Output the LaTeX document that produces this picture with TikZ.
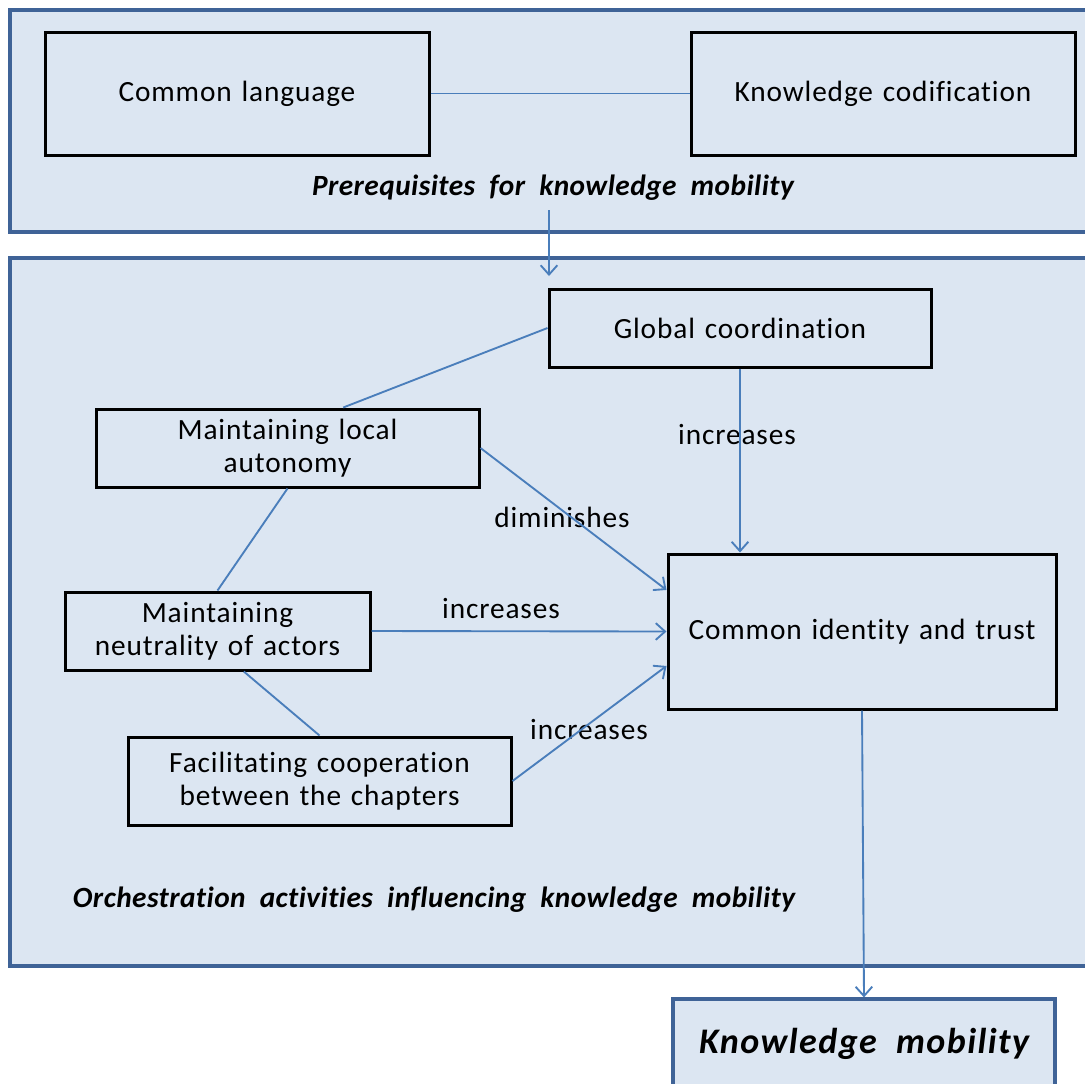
\documentclass[tikz,border=0pt]{standalone}
\usepackage{fontspec}
\setmainfont{Carlito}[Ligatures=NoCommon]
\newfontfamily\boxfont{Carlito}[LetterSpace=3,WordSpace=1.3,Ligatures=NoCommon]
\newfontfamily\titlefont{Carlito}[LetterSpace=1.5,WordSpace=2,Ligatures=NoCommon]
\newfontfamily\goalfont{Carlito}[LetterSpace=4,WordSpace=2,Ligatures=NoCommon]
\usetikzlibrary{arrows.meta}
\definecolor{panelfill}{HTML}{DCE6F2}
\definecolor{paneldraw}{HTML}{3F6397}
\definecolor{linkblue}{HTML}{4A7EBB}

\tikzset{
  concept/.style={draw=black, line width=2.25pt, fill=panelfill, inner sep=0pt, align=center,
    font=\boxfont\fontsize{22pt}{24.75pt}\selectfont},
  panel/.style={draw=paneldraw, line width=2.4pt, fill=panelfill},
  paneltitle/.style={inner sep=0pt, font=\titlefont\bfseries\itshape\fontsize{22pt}{24.75pt}\selectfont},
  effect/.style={inner sep=0pt, font=\boxfont\fontsize{22pt}{24.75pt}\selectfont},
  link/.style={draw=linkblue, line width=1.4pt},
  flow/.style={link, -{Straight Barb[length=7pt,width=12.5pt,line width=1.4pt]}}
}

\begin{document}
\begin{tikzpicture}[x=0.75pt,y=0.75pt,yscale=-1,xscale=1]
\useasboundingbox (0,0) rectangle (1085,1083);
\clip (0,0) rectangle (1085,1083);

% Panels
\draw[panel] (10,10) rectangle (1110,232);
\draw[panel] (10,258) rectangle (1110,966);

% Prerequisites
\node[concept, minimum width=288pt, minimum height=92.25pt] (lang) at (237,93.5) {Common language};
\node[concept, minimum width=288pt, minimum height=92.25pt] (codif) at (883,93.5) {Knowledge codification};
\node[paneltitle] (pretitle) at (553,188) {Prerequisites for knowledge mobility};
\draw[link] (lang.east) -- (codif.west);

% Orchestration activities
\node[concept, minimum width=286.5pt, minimum height=58.5pt] (glob) at (740,328) {Global coordination};
\node[concept, minimum width=287.25pt, minimum height=58.5pt] (loc) at (287.5,448) {Maintaining local\\autonomy};
\node[concept, minimum width=228.75pt, minimum height=58.5pt] (neu) at (217.5,631) {Maintaining\\neutrality of actors};
\node[concept, minimum width=287.25pt, minimum height=66pt] (fac) at (319.5,781) {Facilitating cooperation\\between the chapters};
\node[concept, minimum width=291pt, minimum height=116.25pt] (cit) at (862,631.5) {Common identity and trust};
\node[paneltitle] (orchtitle) at (434,900) {Orchestration activities influencing knowledge mobility};

% Outcome
\node[concept, draw=paneldraw, line width=2.4pt, minimum width=286.5pt, minimum height=67.5pt,
  font=\goalfont\bfseries\itshape\fontsize{27pt}{30pt}\selectfont] (kmob) at (864,1044) {Knowledge mobility};

% Effect labels
\node[effect] (inc1) at (737,435) {increases};
\node[effect] (dim) at (562,517) {diminishes};
\node[effect] (inc2) at (501,609) {increases};
\node[effect] (inc3) at (589,730) {increases};

% Links
\coordinate (preout) at (549,210);
\coordinate (orchin) at (549,276);
\draw[flow] (preout) -- (orchin);
\draw[link] (glob.west) -- (loc.36);
\draw[link] (loc.south) -- (neu.north);
\draw[link] (neu.-57) -- (fac.north);
\draw[flow] (glob.south) -- (glob.south |- cit.north);
\draw[flow] (loc.east) -- (cit.168.5);
\draw[flow] (neu.east) -- (cit.west);
\draw[flow] (fac.east) -- (cit.190);
\draw[flow] (cit.south) -- (kmob.north);

\end{tikzpicture}
\end{document}
